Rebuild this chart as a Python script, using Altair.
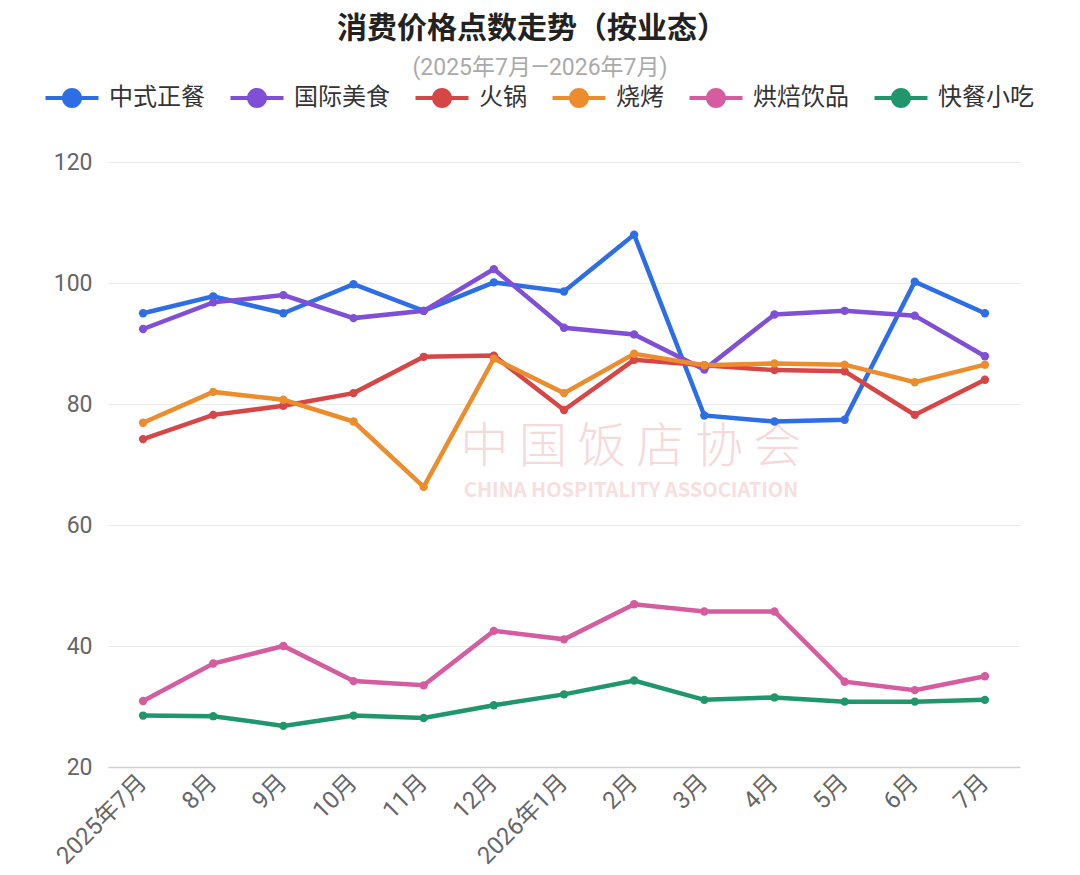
import altair as alt
import pandas as pd

months = ["2025年7月", "8月", "9月", "10月", "11月", "12月", "2026年1月",
          "2月", "3月", "4月", "5月", "6月", "7月"]

series_names = ["中式正餐", "国际美食", "火锅", "烧烤", "烘焙饮品", "快餐小吃"]
colors = ["#2d6ee6", "#7f4fd6", "#d64646", "#ec8c2c", "#d65ca0", "#20966c"]

zhongshi = [95.0, 97.8, 95.0, 99.8, 95.4, 100.1, 98.6, 108.0, 78.1, 77.1, 77.4, 100.2, 95.0]
guoji = [92.4, 96.8, 98.0, 94.2, 95.4, 102.3, 92.6, 91.5, 85.7, 94.8, 95.4, 94.6, 87.9]
huoguo = [74.2, 78.2, 79.7, 81.8, 87.8, 88.0, 79.0, 87.3, 86.4, 85.6, 85.4, 78.2, 84.0]
shaokao = [76.9, 82.0, 80.7, 77.1, 66.3, 87.5, 81.8, 88.3, 86.4, 86.7, 86.5, 83.6, 86.5]
hongbei = [30.9, 37.1, 40.0, 34.2, 33.5, 42.5, 41.1, 46.9, 45.7, 45.7, 34.1, 32.7, 35.0]
kuaican = [28.5, 28.4, 26.8, 28.5, 28.1, 30.2, 32.0, 34.3, 31.1, 31.5, 30.8, 30.8, 31.1]

y_ticks = [20, 40, 60, 80, 100, 120]

title_text = ["消费价格点数走势（按业态）"]
subtitle_text = ["(2025年7月—2026年7月)"]

all_series = [zhongshi, guoji, huoguo, shaokao, hongbei, kuaican]
rows = []
for si, (name, vals) in enumerate(zip(series_names, all_series)):
    for mi, (m, v) in enumerate(zip(months, vals)):
        rows.append({"月份": m, "值": v, "业态": name, "order": si})
df = pd.DataFrame(rows)

FONT = "Noto Sans CJK SC"
AXFONT = "Roboto, Noto Sans CJK SC"
TIGHT = "Liberation Sans, Noto Sans CJK SC"

legend_path = ("M-2.65,-0.2 L-0.98,-0.2 A1,1 0 0,1 0.98,-0.2 L2.65,-0.2 "
               "L2.65,0.2 L0.98,0.2 A1,1 0 0,1 -0.98,0.2 L-2.65,0.2 Z")

x_enc = alt.X(
    "月份:N", sort=months, scale=alt.Scale(padding=0.5),
    axis=alt.Axis(title=None, labelAngle=315, labelFontSize=24, labelColor="#666666",
                  ticks=False, domainColor="#d0d0d0", domainWidth=1.5,
                  labelPadding=3, labelOffset=-9, grid=False, labelFont=AXFONT),
)
y_enc = alt.Y(
    "值:Q", scale=alt.Scale(domain=[20, 120], nice=False, zero=False),
    axis=alt.Axis(values=y_ticks, title=None, domain=False, ticks=False,
                  labelFontSize=23, labelColor="#666666", labelPadding=16,
                  gridColor="#ececec", gridWidth=1.2, labelFont=AXFONT),
)

color_scale = alt.Scale(domain=series_names, range=colors)

lines = alt.Chart(df).mark_line(strokeWidth=4.5).encode(
    x=x_enc, y=y_enc,
    color=alt.Color("业态:N", scale=color_scale, legend=None),
    order=alt.Order("order:Q"),
)

points = alt.Chart(df).mark_circle(size=70, opacity=1).encode(
    x=x_enc, y=y_enc,
    color=alt.Color(
        "业态:N", scale=color_scale,
        legend=alt.Legend(
            title=None, orient="none", legendX=-48, legendY=-76,
            direction="horizontal", symbolType=legend_path, symbolSize=400,
            symbolStrokeWidth=0, symbolOpacity=1, labelFontSize=24,
            labelColor="#333333", labelOffset=25, columnPadding=25, padding=0,
            labelFont=TIGHT,
        ),
    ),
)

title_mark = alt.Chart(pd.DataFrame({"t": title_text})).mark_text(
    fontSize=30, fontWeight="bold", color="#222222", font=TIGHT,
    align="center", baseline="middle"
).encode(text="t:N", x=alt.value(424), y=alt.value(-133))

subtitle_mark = alt.Chart(pd.DataFrame({"t": subtitle_text})).mark_text(
    fontSize=23, color="#aaaaaa", font=AXFONT, align="center", baseline="middle"
).encode(text="t:N", x=alt.value(432), y=alt.value(-94))

wm1 = alt.Chart(pd.DataFrame({"t": ["中 国 饭 店 协 会"]})).mark_text(
    fontSize=48, color="#f6d9d9", font=FONT, fontWeight=300
).encode(text="t:N", x=alt.value(523), y=alt.value(286))

wm2 = alt.Chart(pd.DataFrame({"t": ["CHINA HOSPITALITY ASSOCIATION"]})).mark_text(
    fontSize=20, color="#f8dede", font=FONT, fontWeight="bold"
).encode(text="t:N", x=alt.value(523), y=alt.value(329))

chart = alt.layer(
    wm1, wm2, title_mark, subtitle_mark, lines, points
).resolve_legend(color="independent").properties(
    width=912, height=605,
    autosize=alt.AutoSizeParams(type="none"),
    padding={"left": 100, "top": 154, "right": 52, "bottom": 104},
).configure(font=FONT).configure_view(stroke=None)

chart.save("out.html", embed_options={"renderer": "svg", "actions": False})
